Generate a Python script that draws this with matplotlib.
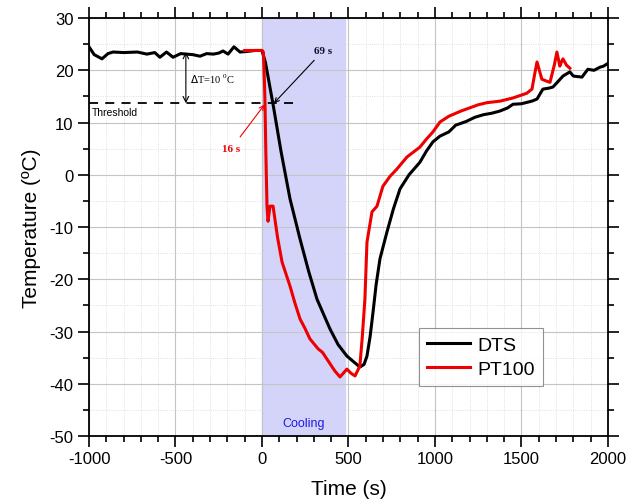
import matplotlib
matplotlib.use("Agg")
import matplotlib.pyplot as plt
from matplotlib.ticker import MultipleLocator

plt.rcParams['font.family'] = ['Liberation Sans', 'DejaVu Sans']
plt.rcParams['axes.unicode_minus'] = False

# DTS trace (time s, temperature C)
dts_t = [-1000, -970, -925, -890, -861, -800, -720, -665, -620, -590, -552, -514, -470, -437,
         -400, -358, -320, -281, -250, -225, -196, -162, -127, -89, -40, 0, 20, 64, 110, 162,
         220, 270, 318, 360, 393, 440, 491, 530, 566, 590, 607, 625, 642, 660, 682, 722, 760,
         798, 850, 913, 950, 988, 1029, 1080, 1120, 1180, 1230, 1280, 1330, 1375, 1420, 1451,
         1500, 1560, 1590, 1624, 1660, 1682, 1710, 1740, 1780, 1800, 1850, 1884, 1920, 1954,
         1975, 1994]
dts_v = [24.5, 23.0, 22.2, 23.2, 23.5, 23.4, 23.5, 23.1, 23.4, 22.5, 23.5, 22.5, 23.2, 23.1,
         23.0, 22.7, 23.2, 23.1, 23.3, 23.7, 23.1, 24.5, 23.5, 23.6, 23.8, 23.8, 21.5, 13.5, 4.5,
         -4.6, -12.3, -18.5, -23.8, -27.0, -29.5, -32.5, -34.7, -35.8, -36.8, -36.3, -34.7,
         -31.0, -26.3, -21.0, -16.1, -11.0, -6.5, -2.7, 0.0, 2.4, 4.5, 6.3, 7.4, 8.2, 9.5, 10.2,
         11.0, 11.5, 11.8, 12.2, 12.8, 13.5, 13.6, 14.1, 14.5, 16.4, 16.6, 16.8, 17.8, 18.9,
         19.7, 18.9, 18.7, 20.2, 20.0, 20.6, 20.8, 21.2]

# PT100 trace
pt_t = [-100, -40, 0, 8, 14, 17, 22, 29, 35, 46, 64, 90, 116, 162, 190, 220, 250, 277, 324,
        350, 376, 420, 451, 491, 515, 538, 566, 580, 595, 607, 636, 665, 699, 740, 780, 838,
        913, 950, 988, 1029, 1080, 1150, 1200, 1250, 1300, 1376, 1450, 1530, 1561, 1575,
        1590, 1618, 1640, 1665, 1690, 1705, 1722, 1730, 1740, 1760, 1780]
pt_v = [23.8, 23.8, 23.8, 23.5, 18.0, 14.5, 5.0, -6.0, -8.9, -6.0, -6.0, -12.0, -16.7, -21.3,
        -24.5, -27.6, -29.5, -31.4, -33.3, -34.0, -35.3, -37.5, -38.7, -37.2, -38.0, -38.5,
        -36.6, -31.0, -23.8, -12.9, -7.1, -6.0, -2.2, -0.3, 1.1, 3.4, 5.3, 6.8, 8.2, 10.1,
        11.2, 12.2, 12.8, 13.4, 13.8, 14.1, 14.7, 15.6, 16.4, 19.0, 21.6, 18.3, 18.0, 17.7,
        21.0, 23.5, 20.8, 21.5, 22.2, 21.0, 20.4]

threshold = 13.7
cool_start, cool_end = 0, 480

fig = plt.figure(figsize=(6.29, 5.02), dpi=100)
ax = fig.add_axes([0.1415, 0.1295, 0.825, 0.8325])

ax.axvspan(cool_start, cool_end, color='#d4d4fa', zorder=0.5)
ax.plot(dts_t, dts_v, color='black', lw=2.2, label='DTS', zorder=3)
ax.plot(pt_t, pt_v, color='#ee0000', lw=2.2, label='PT100', zorder=3)

ax.plot([-1000, 213], [threshold, threshold], color='black', lw=1.3, ls=(0, (5, 4)), zorder=4)
ax.text(-985, 12.0, 'Threshold', fontsize=7.5, va='center', ha='left')

ax.annotate('', xy=(-440, threshold), xytext=(-440, 23.5),
            arrowprops=dict(arrowstyle='<->', color='black', lw=0.8, shrinkA=0, shrinkB=0))
ax.text(-415, 18.5, r'$\Delta$T=10 $^{\mathregular{0}}$C', fontsize=7.5,
        family='Liberation Serif', va='center')

ax.annotate('69 s', xy=(69, threshold), xytext=(300, 23.7), color='#111133',
            fontsize=8, family='Liberation Serif', fontweight='bold', ha='left', va='center',
            arrowprops=dict(arrowstyle='->', color='black', lw=0.8, shrinkA=2, shrinkB=0))
ax.annotate('16 s', xy=(14, threshold - 0.3), xytext=(-230, 5.0), color='#ee0000',
            fontsize=8, family='Liberation Serif', fontweight='bold', ha='left', va='center',
            arrowprops=dict(arrowstyle='->', color='#ee0000', lw=0.8, shrinkA=4, shrinkB=0))

ax.text(240, -47.5, 'Cooling', color='#1a1ae6', fontsize=9, ha='center', va='center')

ax.set_xlim(-1000, 2000)
ax.set_ylim(-50, 30)
ax.xaxis.set_major_locator(MultipleLocator(500))
ax.xaxis.set_minor_locator(MultipleLocator(100))
ax.yaxis.set_major_locator(MultipleLocator(10))
ax.yaxis.set_minor_locator(MultipleLocator(5))
ax.grid(which='major', color='#c4c4c4', lw=0.8, zorder=0)
ax.grid(which='minor', color='#d6d6d6', lw=0.6, ls=':', zorder=0)
ax.set_axisbelow(True)
ax.tick_params(which='both', direction='out', top=True, right=True, labelsize=12,
               width=1.2, labeltop=False, labelright=False)
ax.tick_params(which='major', length=8, pad=3)
ax.tick_params(which='minor', length=4)
for s in ax.spines.values():
    s.set_linewidth(1.3)

ax.set_xlabel('Time (s)', fontsize=15, labelpad=9)
ax.set_ylabel('Temperature (ºC)', fontsize=15, labelpad=6)

leg = ax.legend(loc='lower right', bbox_to_anchor=(0.875, 0.12), fontsize=14, frameon=True,
                fancybox=False, edgecolor='#777777', handlelength=2.2, borderpad=0.4,
                labelspacing=0.35, handletextpad=0.4, borderaxespad=0)
leg.get_frame().set_linewidth(0.8)

fig.savefig('out.png', dpi=100)
